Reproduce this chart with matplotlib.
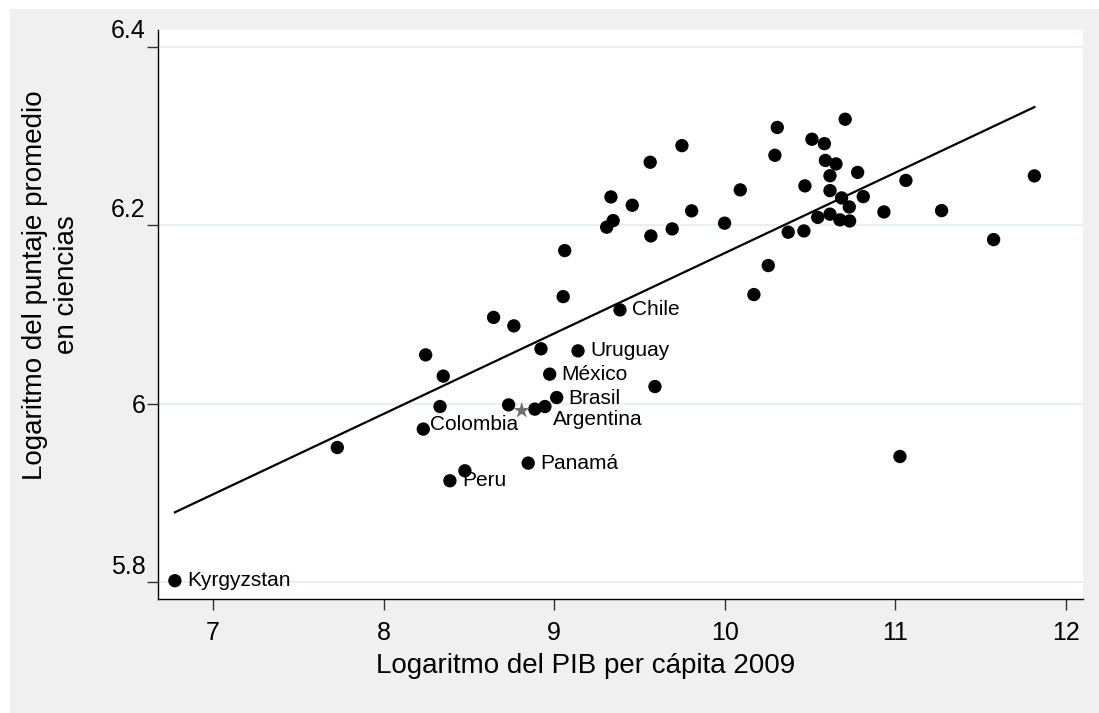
#!/usr/bin/env python3
"""
Science score vs GDP per capita scatter (log-log) with linear fit.
Recreates a Stata-style chart and saves it as out.png.
"""

import numpy as np
import matplotlib
matplotlib.use("Agg")
import matplotlib.pyplot as plt
from matplotlib.patches import Rectangle
from matplotlib.transforms import offset_copy

# --- data ------------------------------------------------------------------
log_gdp = [
    6.777, 7.729, 8.247, 8.350, 8.331, 8.233, 8.389, 8.477, 8.645, 8.764,
    9.053, 9.386, 8.923, 9.140, 8.974, 9.591, 8.733, 8.887, 8.946, 9.015,
    8.848, 9.062, 9.308, 9.346, 9.333, 9.458, 9.567, 9.563, 9.692, 9.749,
    9.806, 9.999, 10.091, 10.171, 10.255, 10.294, 10.308, 10.372, 10.464, 10.470,
    10.511, 10.545, 10.584, 10.590, 10.617, 10.617, 10.617, 10.652, 10.675, 10.685,
    10.706, 10.730, 10.732, 10.779, 10.812, 10.933, 11.027, 11.062, 11.271, 11.576,
    11.815,
]
log_science = [
    5.8015, 5.9508, 6.0546, 6.0308, 5.9967, 5.9714, 5.9135, 5.9247, 6.0966, 6.0871,
    6.1199, 6.1050, 6.0614, 6.0591, 6.0330, 6.0191, 5.9986, 5.9938, 5.9967, 6.0068,
    5.9333, 6.1715, 6.1977, 6.2051, 6.2316, 6.2223, 6.1879, 6.2705, 6.1958, 6.2891,
    6.2160, 6.2022, 6.2395, 6.1222, 6.1547, 6.2783, 6.3095, 6.1921, 6.1935, 6.2440,
    6.2963, 6.2087, 6.2913, 6.2725, 6.2554, 6.2387, 6.2123, 6.2686, 6.2059, 6.2305,
    6.3187, 6.2204, 6.2047, 6.2591, 6.2320, 6.2148, 5.9407, 6.2501, 6.2163, 6.1838,
    6.2552,
]
country = [
    "Kyrgyzstan", "", "", "", "", "Colombia", "Peru", "", "", "",
    "", "Chile", "", "Uruguay", "México", "", "", "", "Argentina", "Brasil",
    "Panamá", "", "", "", "", "", "", "", "", "",
    "", "", "", "", "", "", "", "", "", "",
    "", "", "", "", "", "", "", "", "", "",
    "", "", "", "", "", "", "", "", "", "",
    "",
]

# gray star marker (regional reference point)
star_gdp = [8.810]
star_science = [5.9922]

x_ticks = [7, 8, 9, 10, 11, 12]
y_ticks = [5.8, 6.0, 6.2, 6.4]
y_tick_labels = ["5.8", "6", "6.2", "6.4"]

x_title = "Logaritmo del PIB per cápita 2009"
y_title = "Logaritmo del puntaje promedio\nen ciencias"

# label offsets in pixels (dx, dy); default is to the right of the dot
label_offset = {
    "Colombia": (7, 5),
    "Argentina": (8, -13),
    "Brasil": (12, -1),
}

W, H, DPI = 1099, 713, 100
BG = "#f0f0f0"
GRID = "#e8f0f2"


def plot_chart(output_file):
    """Draw the scatter, the linear fit and the country labels."""
    plt.rcParams["font.family"] = ["Liberation Sans", "DejaVu Sans"]

    fig = plt.figure(figsize=(W / DPI, H / DPI), dpi=DPI, facecolor="white")
    # gray graph region with a thin white border at top and left
    fig.patches.append(Rectangle((10 / W, 0), 1, 1 - 9 / H,
                                 transform=fig.transFigure,
                                 facecolor=BG, edgecolor="none", zorder=-10))

    ax = fig.add_axes([158 / W, 1 - 599 / H, (1083 - 158) / W, (599 - 30) / H])
    ax.set_facecolor("white")

    x = np.array(log_gdp)
    y = np.array(log_science)

    # linear fit
    slope, intercept = np.polyfit(x, y, 1)
    xs = np.array([x.min(), x.max()])
    ax.plot(xs, intercept + slope * xs, color="black", linewidth=1.6, zorder=3)

    ax.scatter(x, y, s=92, color="black", edgecolors="none", zorder=4)
    ax.scatter(star_gdp, star_science, s=150, marker="*", color="#6e6e6e",
               edgecolors="none", zorder=4)

    for xi, yi, name in zip(x, y, country):
        if not name:
            continue
        dx, dy = label_offset.get(name, (12, 0))
        ax.annotate(name, (xi, yi), xytext=(dx * 72 / DPI, dy * 72 / DPI),
                    textcoords="offset points", fontsize=15,
                    ha="left", va="center", zorder=5)

    ax.set_xlim(6.678, 12.10)
    ax.set_ylim(5.781, 6.4187)
    ax.set_xticks(x_ticks)
    ax.set_xticklabels([str(t) for t in x_ticks])
    ax.set_yticks(y_ticks)
    ax.set_yticklabels(y_tick_labels)

    ax.grid(True, axis="y", color=GRID, linewidth=1.5, zorder=0)
    ax.set_axisbelow(True)
    for side in ("top", "right"):
        ax.spines[side].set_visible(False)
    for side in ("left", "bottom"):
        ax.spines[side].set_linewidth(1.0)
        ax.spines[side].set_color("black")

    ax.tick_params(axis="both", direction="out", length=8, width=1,
                   color="#333333", labelsize=18)
    ax.tick_params(axis="x", pad=8)
    ax.tick_params(axis="y", pad=1)

    # Stata export shifts the decimal labels upwards a bit
    for lab in ax.get_yticklabels():
        if "." in lab.get_text():
            lab.set_transform(offset_copy(lab.get_transform(), fig=fig,
                                          x=0, y=18, units="dots"))

    fig.text(586 / W, 1 - 666 / H, x_title, fontsize=20,
             ha="center", va="center")
    fig.text(51 / W, 1 - 285 / H, y_title, fontsize=20, rotation=90,
             ha="center", va="center", multialignment="center",
             linespacing=1.25)

    fig.savefig(output_file, dpi=DPI, facecolor=fig.get_facecolor())
    plt.close(fig)


def main():
    plot_chart("out.png")
    return 0


if __name__ == "__main__":
    main()
